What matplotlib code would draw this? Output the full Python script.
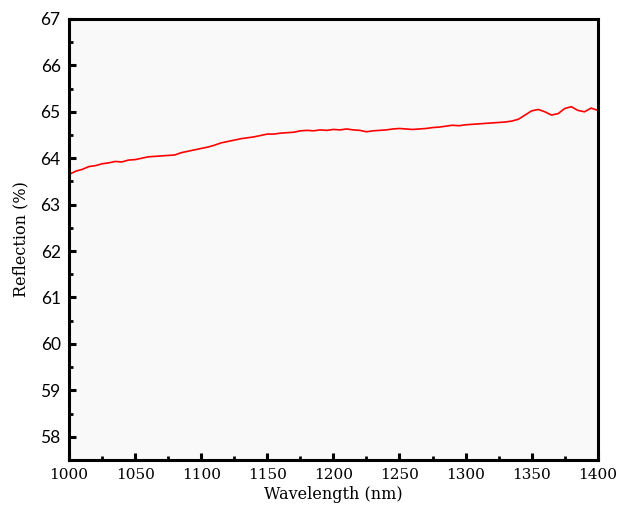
import matplotlib
matplotlib.use("Agg")
import matplotlib.pyplot as plt
from matplotlib.ticker import MultipleLocator

wavelength = list(range(1000, 1401, 5))
reflection = [
    63.65, 63.72, 63.76, 63.82, 63.84, 63.88, 63.90, 63.93, 63.92, 63.96,
    63.97, 64.00, 64.03, 64.04, 64.05, 64.06, 64.07, 64.12, 64.15, 64.18,
    64.21, 64.24, 64.28, 64.33, 64.36, 64.39, 64.42, 64.44, 64.46, 64.49,
    64.52, 64.52, 64.54, 64.55, 64.56, 64.59, 64.60, 64.59, 64.61, 64.60,
    64.62, 64.61, 64.63, 64.61, 64.60, 64.57, 64.59, 64.60, 64.61, 64.63,
    64.64, 64.63, 64.62, 64.63, 64.64, 64.66, 64.67, 64.69, 64.71, 64.70,
    64.72, 64.73, 64.74, 64.75, 64.76, 64.77, 64.78, 64.80, 64.84, 64.93,
    65.02, 65.05, 65.00, 64.93, 64.96, 65.07, 65.11, 65.03, 65.00, 65.08,
    65.03,
]
x_ticks = [1000, 1050, 1100, 1150, 1200, 1250, 1300, 1350, 1400]
y_ticks = [58, 59, 60, 61, 62, 63, 64, 65, 66, 67]

fig = plt.figure(figsize=(6.22, 5.12), dpi=100)
ax = fig.add_axes([0.111, 0.1016, 0.85, 0.8614])
ax.set_facecolor("#f9f9f9")
ax.plot(wavelength, reflection, color="#ff0000", lw=1.2)

ax.set_xlim(1000, 1400)
ax.set_ylim(57.5, 67)
ax.set_xticks(x_ticks)
ax.set_yticks(y_ticks)
ax.xaxis.set_minor_locator(MultipleLocator(25))
ax.yaxis.set_minor_locator(MultipleLocator(0.5))

for s in ax.spines.values():
    s.set_linewidth(2.2)
ax.tick_params(which="major", direction="in", length=5, width=2.2, top=False, right=False)
ax.tick_params(which="minor", direction="in", length=3, width=2.0, top=False, right=False)
ax.tick_params(axis="y", pad=6)
ax.tick_params(axis="x", pad=6)

for lab in ax.get_yticklabels():
    lab.set_fontfamily("Lato")
    lab.set_fontsize(12.5)
for lab in ax.get_xticklabels():
    lab.set_fontfamily("DejaVu Serif")
    lab.set_fontsize(11)

ax.set_xlabel("Wavelength (nm)", fontfamily="DejaVu Serif", fontsize=11.5, labelpad=3)
ax.set_ylabel("Reflection (%)", fontfamily="DejaVu Serif", fontsize=11.5, labelpad=8)

fig.savefig("out.png", dpi=100)
